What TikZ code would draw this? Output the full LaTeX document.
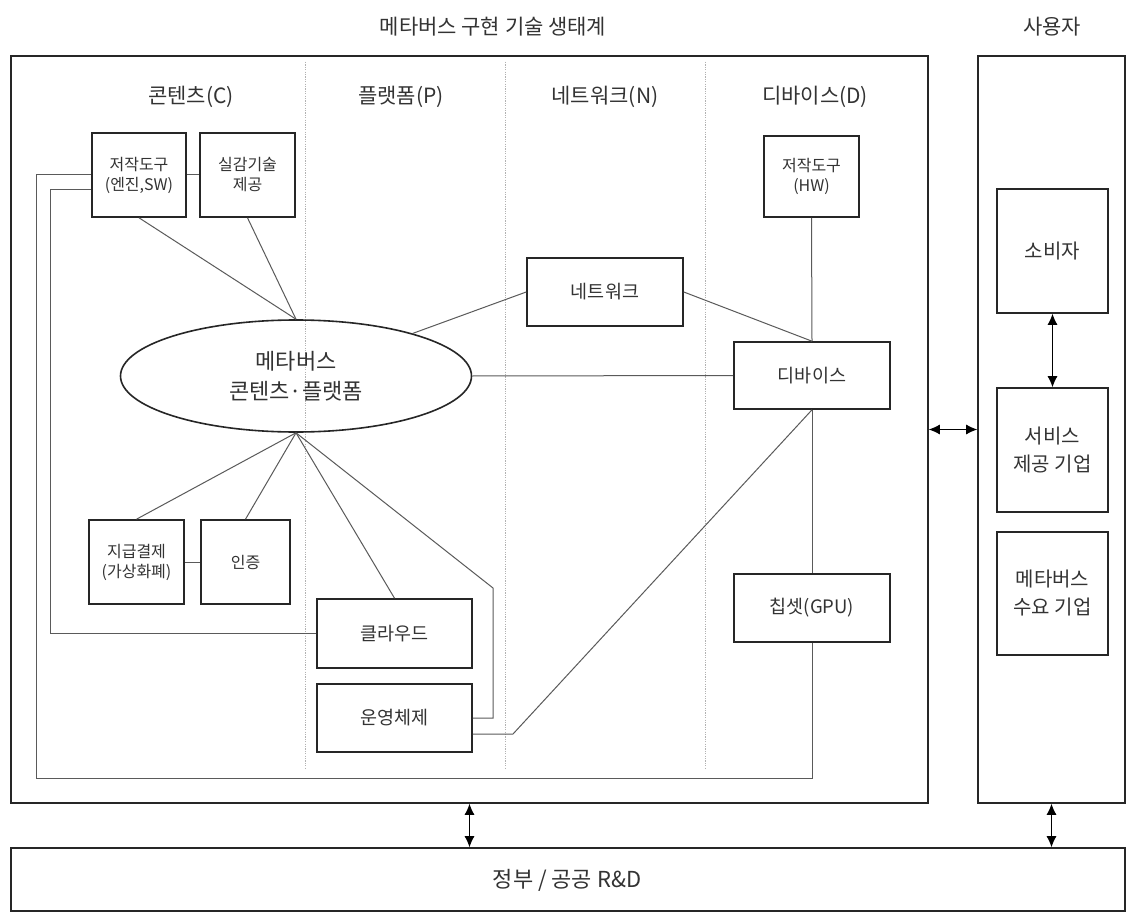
\documentclass[tikz,border=0pt]{standalone}
\usepackage{fontspec}
\setmainfont{Noto Sans CJK KR}
\usetikzlibrary{shapes.geometric,arrows.meta,calc}
\definecolor{txt}{HTML}{333333}
\definecolor{ln}{HTML}{5a5a5a}
\begin{document}
\begin{tikzpicture}[x=1pt,y=-1pt,
  frame/.style={draw=black!85,line width=1.6pt,inner sep=0pt,anchor=center},
  box/.style={draw=black!85,line width=1.6pt,inner sep=0pt,align=center,text=txt,font=\fontsize{18.5}{23}\selectfont},
  sbox/.style={box,font=\fontsize{16}{20}\selectfont},
  rbox/.style={box,font=\fontsize{20}{28}\selectfont},
  conn/.style={draw=ln,line width=1pt},
  dbl/.style={line width=1pt,{Latex[length=11pt,width=10pt]}-{Latex[length=11pt,width=10pt]}},
  sep/.style={draw=black!30,line width=0.6pt,dash pattern=on 1.2pt off 1.2pt},
  hdr/.style={text=txt,font=\fontsize{21}{25}\selectfont,inner sep=0pt}]
\useasboundingbox (0,0) rectangle (1127,912);
\fill[white] (0,0) rectangle (1127,912);

% frames
\node[frame,minimum width=917pt,minimum height=747pt] (main) at (469.5,429.5) {};
\node[frame,minimum width=147pt,minimum height=747pt] (user) at (1051.5,429.5) {};
\node[frame,minimum width=1114pt,minimum height=63pt] (gov) at (568,879.5) {};
\node[text=txt,font=\fontsize{22}{26}\selectfont,inner sep=0pt] (govt) at (567,880) {정부 / 공공 R\&D};

% titles
\node[hdr] (title) at (493,27) {메타버스 구현 기술 생태계};
\node[hdr] (usert) at (1052,27) {사용자};
\node[hdr] (hc) at (191,97) {콘텐츠(C)};
\node[hdr] (hp) at (401,97) {플랫폼(P)};
\node[hdr] (hn) at (605,97) {네트워크(N)};
\node[hdr] (hd) at (815,97) {디바이스(D)};

% separators
\coordinate (s1t) at (305,62); \coordinate (s1b) at (305,768);
\coordinate (s2t) at (505,62); \coordinate (s2b) at (505,768);
\coordinate (s3t) at (705,62); \coordinate (s3b) at (705,768);
\draw[sep] (s1t) -- (s1b);
\draw[sep] (s2t) -- (s2b);
\draw[sep] (s3t) -- (s3b);

% nodes
\node[sbox,minimum width=94pt,minimum height=84pt] (jak) at (139,175) {저작도구\\(엔진,SW)};
\node[sbox,minimum width=95pt,minimum height=84pt] (sil) at (247.5,175) {실감기술\\제공};
\node[sbox,minimum width=95pt,minimum height=81pt] (hw) at (811.5,176.5) {저작도구\\(HW)};
\node[box,minimum width=156pt,minimum height=68pt] (net) at (605,292) {네트워크};
\node[box,minimum width=156pt,minimum height=67pt] (dev) at (812,375.5) {디바이스};
\node[box,minimum width=156pt,minimum height=68pt] (chip) at (812,608) {칩셋(GPU)};
\node[box,minimum width=155pt,minimum height=69pt] (cl) at (394.5,633.5) {클라우드};
\node[box,minimum width=155pt,minimum height=68pt] (os) at (394.5,718) {운영체제};
\node[sbox,minimum width=95pt,minimum height=84pt] (pay) at (136.5,562) {지급결제\\(가상화폐)};
\node[sbox,minimum width=89pt,minimum height=84pt] (auth) at (245.5,562) {인증};
\node[box,ellipse,minimum width=351pt,minimum height=112pt,font=\fontsize{22}{30}\selectfont] (ell) at (296,376) {메타버스\\콘텐츠·플랫폼};

\node[rbox,minimum width=111pt,minimum height=124pt] (cons) at (1052.5,251) {소비자};
\node[rbox,minimum width=111pt,minimum height=124pt] (svc) at (1052.5,450) {서비스\\제공 기업};
\node[rbox,minimum width=111pt,minimum height=123pt] (dem) at (1052.5,593.5) {메타버스\\수요 기업};

% connectors
\draw[conn] (jak.east) -- (sil.west);
\draw[conn] (pay.east) -- (auth.west);
\draw[conn] (jak.south) -- (ell.north);
\draw[conn] (sil.south) -- (ell.north);
\draw[conn] (ell) -- (net.west);
\draw[conn] (net.east) -- (dev.north);
\draw[conn] (hw.south) -- (dev.north);
\draw[conn] (ell.east) -- (dev.west);
\draw[conn] (dev.south) -- (chip.north);
\draw[conn] (ell.south) -- (pay.north);
\draw[conn] (ell.south) -- (auth.north);
\draw[conn] (ell.south) -- (cl.north);
\coordinate (b1) at (493,588);
\draw[conn] (ell.south) -- (b1) |- (os.east);
\coordinate (osr) at ([yshift=-16pt]os.east);
\coordinate (b2) at (513,734);
\draw[conn] (osr) -- (b2) -- (dev.south);
\coordinate (lo) at (36,778);
\draw[conn] (jak.west) -| (lo) -| (chip.south);
\coordinate (jw2) at ([yshift=-15pt]jak.west);
\coordinate (li) at (50,633.5);
\draw[conn] (jw2) -| (li) -- (cl.west);

% arrows
\draw[dbl] (cons.south) -- (svc.north);
\draw[dbl] (main.east) -- (user.west);
\draw[dbl] (main.south) -- (main.south |- gov.north);
\draw[dbl] (user.south) -- (user.south |- gov.north);
\end{tikzpicture}
\end{document}
